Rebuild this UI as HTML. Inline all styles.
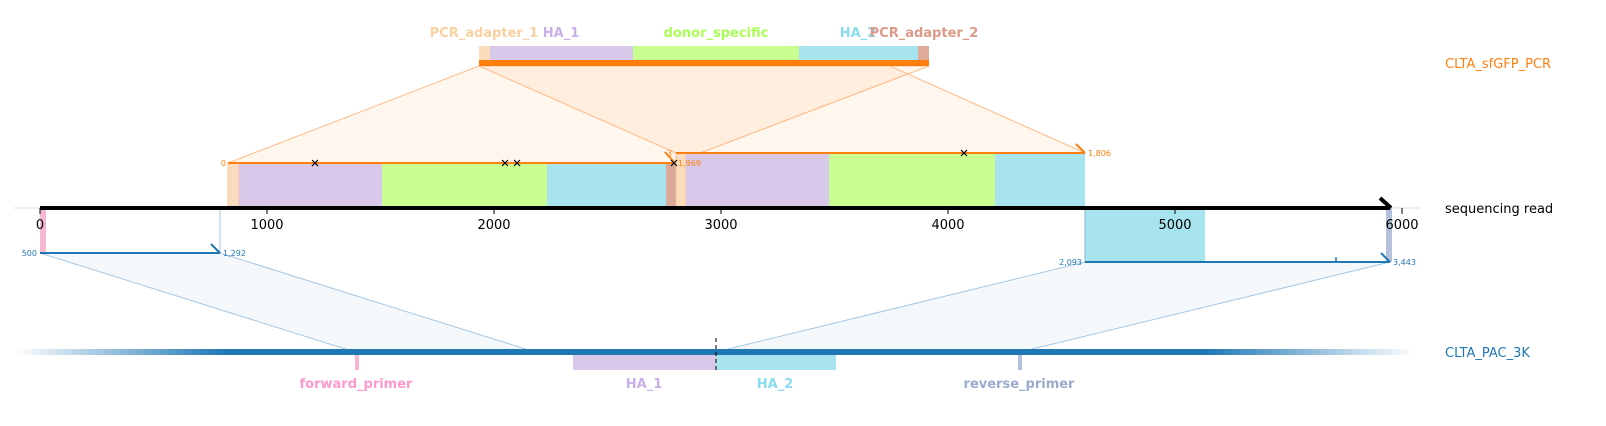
<!DOCTYPE html>
<html><head><meta charset="utf-8"><style>body{margin:0;background:#fff}svg{display:block}text{font-family:"DejaVu Sans","Liberation Sans",sans-serif}</style></head><body>
<svg width="1606" height="426" viewBox="0 0 1606 426" xmlns="http://www.w3.org/2000/svg">
<defs>
<linearGradient id="g" x1="15" x2="1415" gradientUnits="userSpaceOnUse">
<stop offset="0" stop-color="#1f77b4" stop-opacity="0"/><stop offset="0.15" stop-color="#1f77b4"/><stop offset="0.85" stop-color="#1f77b4"/><stop offset="1" stop-color="#1f77b4" stop-opacity="0"/></linearGradient>
</defs>
<!-- orange polygons -->
<polygon points="479,66 929,66 674,163 228,163" fill="#ff7f0e" fill-opacity="0.07" stroke="#ffbb88" stroke-width="1"/>
<polygon points="479,66 890,66 1085,153 676,153" fill="#ff7f0e" fill-opacity="0.07" stroke="#ffbb88" stroke-width="1"/>
<!-- blue polygons -->
<polygon points="40,253 220,253 535,352 355,352" fill="#1f77b4" fill-opacity="0.05" stroke="#a6c8e4" stroke-width="1"/>
<polygon points="1085,262 1390,262 1020,352 716,352" fill="#1f77b4" fill-opacity="0.05" stroke="#a6c8e4" stroke-width="1"/>
<!-- top insert -->
<rect x="479" y="46" width="11" height="16" fill="#fbdcbb"/>
<rect x="490" y="46" width="143" height="16" fill="#d8c8ea"/>
<rect x="633" y="46" width="166" height="16" fill="#c8ff90"/>
<rect x="799" y="46" width="119" height="16" fill="#a8e4ee"/>
<rect x="918" y="46" width="11" height="16" fill="#e0aa98"/>
<rect x="479" y="60" width="450" height="6" fill="#ff7f0e"/>
<!-- middle alignments -->
<rect x="228" y="163" width="11" height="45" fill="#f9dcbd" stroke="#ffbb88" stroke-width="0.8"/>
<rect x="239" y="163" width="143" height="45" fill="#d8c8ea"/>
<rect x="382" y="163" width="165" height="45" fill="#c8ff90"/>
<rect x="547" y="163" width="119" height="45" fill="#a8e4ee"/>
<rect x="666" y="163" width="10" height="45" fill="#dba99a"/>
<rect x="676" y="153" width="10" height="55" fill="#f9dcbd" stroke="#ffbb88" stroke-width="0.8"/>
<rect x="686" y="153" width="143" height="55" fill="#d8c8ea"/>
<rect x="829" y="153" width="166" height="55" fill="#c8ff90"/>
<rect x="995" y="153" width="90" height="55" fill="#a8e4ee"/>
<line x1="228" y1="163" x2="674" y2="163" stroke="#ff7f0e" stroke-width="2"/>
<line x1="676" y1="153" x2="1085" y2="153" stroke="#ff7f0e" stroke-width="2"/>
<polyline points="665,152 674,162" stroke="#ff7f0e" stroke-width="2" fill="none"/>
<polyline points="1076,144 1085,153" stroke="#ff7f0e" stroke-width="2" fill="none"/>
<text x="226" y="166" font-size="8" fill="#ff7f0e" text-anchor="end">0</text>
<text x="678" y="166" font-size="8" fill="#ff7f0e">1,969</text>
<text x="672" y="156" font-size="8" fill="#ff7f0e" text-anchor="end">3</text>
<text x="1088" y="156" font-size="8" fill="#ff7f0e">1,806</text>
<g stroke="#000" stroke-width="1.2">
<path d="M312,160l6,6M318,160l-6,6M502,160l6,6M508,160l-6,6M514,160l6,6M520,160l-6,6M671,160l6,6M677,160l-6,6M961,150l6,6M967,150l-6,6"/>
</g>
<!-- lower read boxes -->
<rect x="40" y="208" width="6" height="45" fill="#f7b6d2"/>
<line x1="220" y1="208" x2="220" y2="253" stroke="#a6c8e4" stroke-width="1"/>
<rect x="1085" y="208" width="120" height="54" fill="#a8e4ee"/>
<line x1="1085" y1="208" x2="1085" y2="262" stroke="#8ab0d0" stroke-width="1"/>
<rect x="1386" y="208" width="6" height="54" fill="#b5c0dc"/>
<line x1="40" y1="253" x2="220" y2="253" stroke="#1f77b4" stroke-width="2"/>
<line x1="211" y1="244" x2="220" y2="253" stroke="#1f77b4" stroke-width="2"/>
<line x1="1085" y1="262" x2="1390" y2="262" stroke="#1f77b4" stroke-width="2"/>
<line x1="1381" y1="253" x2="1390" y2="262" stroke="#1f77b4" stroke-width="2"/>
<line x1="1336" y1="257" x2="1336" y2="262" stroke="#1f77b4" stroke-width="1.5"/>
<text x="37" y="256" font-size="8" fill="#1f77b4" text-anchor="end">500</text>
<text x="223" y="256" font-size="8" fill="#1f77b4">1,292</text>
<text x="1082" y="265" font-size="8" fill="#1f77b4" text-anchor="end">2,093</text>
<text x="1393" y="265" font-size="8" fill="#1f77b4">3,443</text>
<!-- axis -->
<line x1="14" y1="208" x2="1420" y2="208" stroke="#ddd" stroke-width="1"/>
<line x1="40" y1="208" x2="1390" y2="208" stroke="#000" stroke-width="4"/>
<line x1="1380" y1="198" x2="1391" y2="208" stroke="#000" stroke-width="4"/>
<g stroke="#000" stroke-width="1">
<line x1="40" y1="208" x2="40" y2="214"/><line x1="267" y1="208" x2="267" y2="214"/><line x1="494" y1="208" x2="494" y2="214"/><line x1="721" y1="208" x2="721" y2="214"/><line x1="948" y1="208" x2="948" y2="214"/><line x1="1175" y1="208" x2="1175" y2="214"/><line x1="1402" y1="208" x2="1402" y2="214"/>
</g>
<g font-size="13" fill="#000" text-anchor="middle">
<text x="40" y="229">0</text><text x="267" y="229">1000</text><text x="494" y="229">2000</text><text x="721" y="229">3000</text><text x="948" y="229">4000</text><text x="1175" y="229">5000</text><text x="1402" y="229">6000</text>
</g>
<!-- bottom plasmid -->
<rect x="15" y="349" width="1400" height="6" fill="url(#g)"/>
<rect x="355" y="355" width="4" height="15" fill="#f7b6d2"/>
<rect x="573" y="355" width="143" height="15" fill="#d8c8ea"/>
<rect x="716" y="355" width="120" height="15" fill="#a8e4ee"/>
<rect x="1018" y="355" width="4" height="15" fill="#b5c0dc"/>
<line x1="716" y1="338" x2="716" y2="372" stroke="#000" stroke-width="1" stroke-dasharray="4,3"/>
<!-- labels -->
<g font-size="13" font-weight="bold" text-anchor="middle">
<text x="484" y="37" fill="#f9d0a0">PCR_adapter_1</text>
<text x="561" y="37" fill="#c8b0e8">HA_1</text>
<text x="716" y="37" fill="#aaff55">donor_specific</text>
<text x="858" y="37" fill="#88ddee">HA_2</text>
<text x="924" y="37" fill="#dd9988">PCR_adapter_2</text>
<text x="356" y="388" fill="#ff99cc">forward_primer</text>
<text x="644" y="388" fill="#c8b0e8">HA_1</text>
<text x="775" y="388" fill="#88ddee">HA_2</text>
<text x="1019" y="388" fill="#99aacc">reverse_primer</text>
</g>
<text x="1445" y="68" font-size="13" fill="#ff7f0e">CLTA_sfGFP_PCR</text>
<text x="1445" y="213" font-size="13" fill="#000">sequencing read</text>
<text x="1445" y="357" font-size="13" fill="#1f77b4">CLTA_PAC_3K</text>
</svg>
</body></html>
